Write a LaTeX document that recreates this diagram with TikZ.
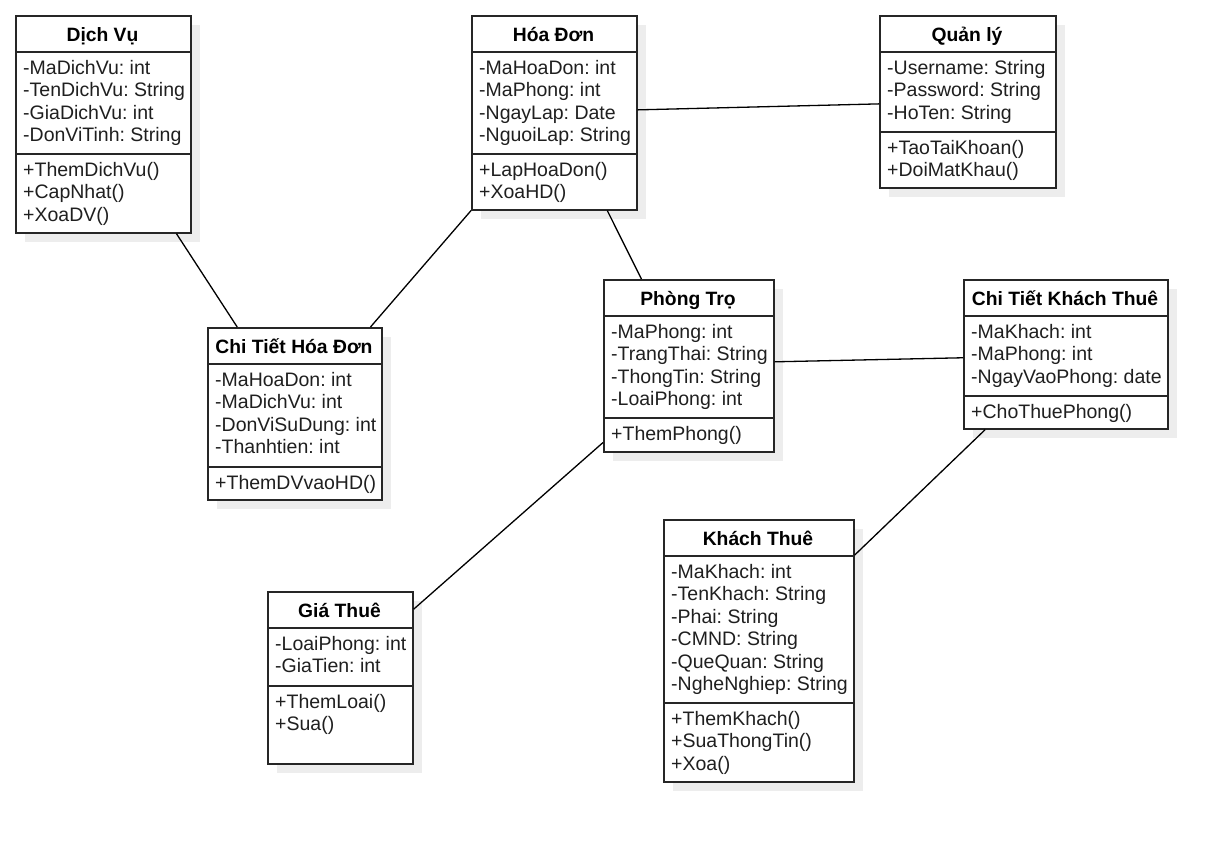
\documentclass[tikz,border=0pt]{standalone}
\usepackage{fontspec}
\setmainfont{Liberation Sans}
\frenchspacing
\usetikzlibrary{calc,shadows}
\tikzset{
 cls/.style={draw=black!85, line width=1.6pt, fill=white, anchor=north west, inner sep=0pt,
   drop shadow={shadow xshift=9pt, shadow yshift=-9pt, fill=black!7, opacity=1}},
 sep/.style={draw=black!85, line width=1.6pt},
 txt/.style={inner sep=0pt, anchor=base west, text=black!88, font=\fontsize{19.5}{22.5}\selectfont},
 ttl/.style={inner sep=0pt, anchor=base, text=black, font=\fontsize{19.3}{22.5}\selectfont\bfseries},
 assoc/.style={draw=black, line width=1.3pt},
}
\newcommand\mylines[4]{\foreach \lineText [count=\i] in {#4} {\node[txt] (#1\i) at (#2,{#3+22.5*(\i-1)}) {\lineText};}}
\begin{document}
\begin{tikzpicture}[x=1pt,y=-1pt]
\useasboundingbox (0,0) rectangle (1225,841);

% Dich Vu
\node[cls, minimum width=175pt, minimum height=217pt] (dv) at (15,15) {};
\draw[sep] ([yshift=-37pt]dv.north west) -- ([yshift=-37pt]dv.north east);
\draw[sep] ([yshift=-139pt]dv.north west) -- ([yshift=-139pt]dv.north east);
\node[ttl] (dvt) at (102.5,41) {Dịch Vụ};
\mylines{dva}{23}{74}{-MaDichVu: int, -TenDichVu: String, -GiaDichVu: int, -DonViTinh: String}
\mylines{dvm}{23}{176}{+ThemDichVu(), +CapNhat(), +XoaDV()}

% Hoa Don
\node[cls, minimum width=165pt, minimum height=194pt] (hd) at (471,15) {};
\draw[sep] ([yshift=-37pt]hd.north west) -- ([yshift=-37pt]hd.north east);
\draw[sep] ([yshift=-139pt]hd.north west) -- ([yshift=-139pt]hd.north east);
\node[ttl] (hdt) at (553.5,41) {Hóa Đơn};
\mylines{hda}{479}{74}{-MaHoaDon: int, -MaPhong: int, -NgayLap: Date, -NguoiLap: String}
\mylines{hdm}{479}{176}{+LapHoaDon(), +XoaHD()}

% Quan ly
\node[cls, minimum width=176pt, minimum height=172pt] (ql) at (879,15) {};
\draw[sep] ([yshift=-37pt]ql.north west) -- ([yshift=-37pt]ql.north east);
\draw[sep] ([yshift=-117pt]ql.north west) -- ([yshift=-117pt]ql.north east);
\node[ttl] (qlt) at (967,41) {Quản lý};
\mylines{qla}{887}{74}{-Username: String, -Password: String, -HoTen: String}
\mylines{qlm}{887}{154}{+TaoTaiKhoan(), +DoiMatKhau()}

% Chi Tiet Hoa Don
\node[cls, minimum width=174pt, minimum height=172pt] (ct) at (207,327) {};
\draw[sep] ([yshift=-37pt]ct.north west) -- ([yshift=-37pt]ct.north east);
\draw[sep] ([yshift=-140pt]ct.north west) -- ([yshift=-140pt]ct.north east);
\node[ttl] (ctt) at (294,353) {Chi Tiết Hóa Đơn};
\mylines{cta}{215}{386}{-MaHoaDon: int, -MaDichVu: int, -DonViSuDung: int, -Thanhtien: int}
\mylines{ctm}{215}{489}{+ThemDVvaoHD()}

% Phong Tro
\node[cls, minimum width=170pt, minimum height=172pt] (pt) at (603,279) {};
\draw[sep] ([yshift=-37pt]pt.north west) -- ([yshift=-37pt]pt.north east);
\draw[sep] ([yshift=-139pt]pt.north west) -- ([yshift=-139pt]pt.north east);
\node[ttl] (ptt) at (688,305) {Phòng Trọ};
\mylines{pta}{611}{338}{-MaPhong: int, -TrangThai: String, -ThongTin: String, -LoaiPhong: int}
\mylines{ptm}{611}{440}{+ThemPhong()}

% Chi Tiet Khach Thue
\node[cls, minimum width=204pt, minimum height=149pt] (ck) at (963,279) {};
\draw[sep] ([yshift=-37pt]ck.north west) -- ([yshift=-37pt]ck.north east);
\draw[sep] ([yshift=-117pt]ck.north west) -- ([yshift=-117pt]ck.north east);
\node[ttl] (ckt) at (1065,305) {Chi Tiết Khách Thuê};
\mylines{cka}{971}{338}{-MaKhach: int, -MaPhong: int, -NgayVaoPhong: date}
\mylines{ckm}{971}{418}{+ChoThuePhong()}

% Gia Thue
\node[cls, minimum width=145pt, minimum height=172pt] (gt) at (267,591) {};
\draw[sep] ([yshift=-37pt]gt.north west) -- ([yshift=-37pt]gt.north east);
\draw[sep] ([yshift=-95pt]gt.north west) -- ([yshift=-95pt]gt.north east);
\node[ttl] (gtt) at (339.5,617) {Giá Thuê};
\mylines{gta}{275}{650}{-LoaiPhong: int, -GiaTien: int}
\mylines{gtm}{275}{708}{+ThemLoai(), +Sua()}

% Khach Thue
\node[cls, minimum width=190pt, minimum height=262pt] (kt) at (663,519) {};
\draw[sep] ([yshift=-37pt]kt.north west) -- ([yshift=-37pt]kt.north east);
\draw[sep] ([yshift=-184pt]kt.north west) -- ([yshift=-184pt]kt.north east);
\node[ttl] (ktt) at (758,545) {Khách Thuê};
\mylines{kta}{671}{578}{-MaKhach: int, -TenKhach: String, -Phai: String, -CMND: String, -QueQuan: String, -NgheNghiep: String}
\mylines{ktm}{671}{725}{+ThemKhach(), +SuaThongTin(), +Xoa()}

% Associations
\draw[assoc] ($(dv.south west)!0.914!(dv.south east)$) -- ($(ct.north west)!0.172!(ct.north east)$);
\draw[assoc] (hd.south west) -- ($(ct.north west)!0.931!(ct.north east)$);
\draw[assoc] ($(hd.south west)!0.818!(hd.south east)$) -- ($(pt.north west)!0.224!(pt.north east)$);
\draw[assoc] ($(hd.north east)!0.485!(hd.south east)$) -- ($(ql.north west)!0.512!(ql.south west)$);
\draw[assoc] ($(pt.north east)!0.477!(pt.south east)$) -- ($(ck.north west)!0.523!(ck.south west)$);
\draw[assoc] ($(ck.south west)!0.108!(ck.south east)$) -- ($(kt.north east)!0.137!(kt.south east)$);
\draw[assoc] ($(pt.north west)!0.942!(pt.south west)$) -- ($(gt.north east)!0.105!(gt.south east)$);
\end{tikzpicture}
\end{document}
